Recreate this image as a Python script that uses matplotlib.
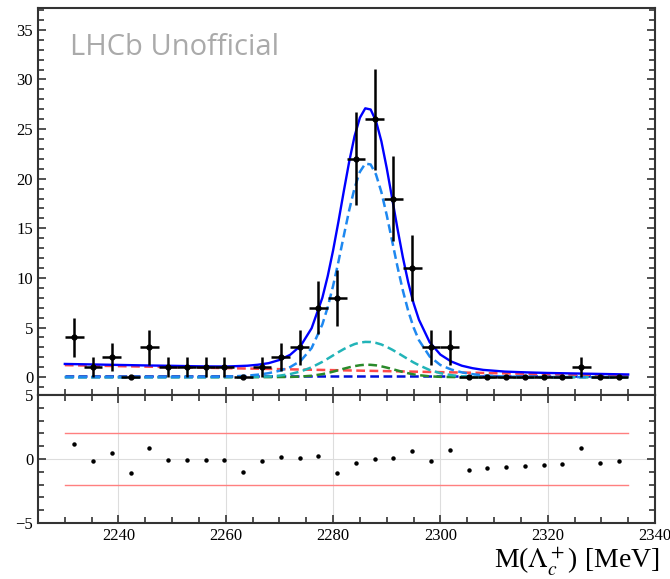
import matplotlib
matplotlib.use("Agg")
import matplotlib.pyplot as plt
import numpy as np
from matplotlib.ticker import MultipleLocator

plt.rcParams['font.family'] = ['Liberation Serif', 'DejaVu Serif']
plt.rcParams['mathtext.fontset'] = 'stix'

# binned data (bin width 3.5 MeV, 2230-2335)
bin_centers = [2231.75, 2235.25, 2238.75, 2242.25, 2245.75, 2249.25, 2252.75, 2256.25,
               2259.75, 2263.25, 2266.75, 2270.25, 2273.75, 2277.25, 2280.75, 2284.25,
               2287.75, 2291.25, 2294.75, 2298.25, 2301.75, 2305.25, 2308.75, 2312.25,
               2315.75, 2319.25, 2322.75, 2326.25, 2329.75, 2333.25]
counts = [4, 1, 2, 0, 3, 1, 1, 1, 1, 0, 1, 2, 3, 7, 8, 22, 26, 18, 11, 3, 3,
          0, 0, 0, 0, 0, 0, 1, 0, 0]
pulls = [1.17, -0.18, 0.44, -1.09, 0.88, -0.10, -0.10, -0.05, -0.05, -1.04,
         -0.18, 0.18, 0.05, 0.26, -1.12, -0.29, -0.03, 0.10, 0.65, -0.18,
         0.70, -0.88, -0.73, -0.62, -0.54, -0.49, -0.41, 0.83, -0.29, -0.18]
bin_half = 1.75

# fit components
mass = [2230, 2235, 2240, 2245, 2250, 2255, 2260, 2264, 2266, 2268, 2270, 2272,
        2274, 2276, 2278, 2279, 2280, 2281, 2282, 2283, 2284, 2285, 2286, 2287,
        2288, 2289, 2290, 2291, 2292, 2293, 2294, 2295, 2296, 2298, 2300, 2302,
        2304, 2306, 2308, 2312, 2316, 2320, 2325, 2330, 2335]
total = [1.33, 1.28, 1.23, 1.18, 1.14, 1.09, 1.07, 1.15, 1.25, 1.41, 1.73, 2.25,
         3.19, 4.93, 8.00, 10.18, 12.77, 15.68, 18.75, 21.71, 24.28, 26.15, 27.09, 26.97,
         25.81, 23.77, 21.06, 18.04, 14.97, 12.09, 9.56, 7.45, 5.79, 3.52, 2.27, 1.58,
         1.15, 0.90, 0.73, 0.56, 0.48, 0.42, 0.37, 0.32, 0.27]
signal = [0, 0, 0, 0, 0.01, 0.01, 0.04, 0.15, 0.25, 0.40, 0.64, 1.01,
          1.66, 2.93, 5.31, 7.06, 9.20, 11.64, 14.26, 16.82, 19.05, 20.69, 21.52, 21.43,
          20.42, 18.65, 16.32, 13.73, 11.13, 8.74, 6.68, 5.01, 3.72, 2.08, 1.22, 0.77,
          0.48, 0.30, 0.18, 0.06, 0.02, 0, 0, 0, 0]
wide_peak = [0, 0, 0, 0, 0, 0, 0, 0.01, 0.03, 0.06, 0.15, 0.31,
             0.58, 0.99, 1.54, 1.86, 2.19, 2.52, 2.83, 3.10, 3.33, 3.48, 3.55, 3.54,
             3.45, 3.29, 3.05, 2.77, 2.46, 2.13, 1.80, 1.48, 1.20, 0.72, 0.40, 0.20,
             0.09, 0.04, 0.01, 0, 0, 0, 0, 0, 0]
small_peak = [0, 0, 0, 0, 0, 0, 0, 0, 0, 0, 0.01, 0.02,
              0.06, 0.14, 0.30, 0.42, 0.55, 0.70, 0.85, 0.99, 1.11, 1.20, 1.25, 1.24,
              1.19, 1.09, 0.96, 0.82, 0.67, 0.52, 0.39, 0.28, 0.20, 0.08, 0.03, 0.01,
              0, 0, 0, 0, 0, 0, 0, 0, 0]
comb_x = [2230, 2335]
comb_y = [1.21, 0.15]
flat_x = [2230, 2335]
flat_y = [0.12, 0.12]

fig = plt.figure(figsize=(6.7, 5.79), dpi=100)
ax = fig.add_axes([38 / 670, 1 - 395 / 579, 617 / 670, 387 / 579])
axr = fig.add_axes([38 / 670, 1 - 523 / 579, 617 / 670, 128 / 579])

lw = 1.8
ax.plot(flat_x, flat_y, '--', color='#0010d8', lw=lw, dashes=(3.5, 1.8))
ax.plot(comb_x, comb_y, '--', color='#ff4a4a', lw=lw, dashes=(3.5, 1.8))
ax.plot(mass, small_peak, '--', color='#2a8a2a', lw=lw, dashes=(3.5, 1.8))
ax.plot(mass, wide_peak, '--', color='#22b4b8', lw=lw, dashes=(3.5, 1.8))
ax.plot(mass, signal, '--', color='#1e88f0', lw=lw, dashes=(3.5, 1.8))
ax.plot(mass, total, '-', color='#0000ff', lw=1.7)

yerr = np.sqrt(counts)
ax.errorbar(bin_centers, counts, xerr=bin_half, yerr=yerr, fmt='o', color='black',
            markersize=3.5, elinewidth=1.8, capsize=0, zorder=5)

ax.set_xlim(2225, 2340)
ax.set_ylim(-1.8, 37.2)
ax.yaxis.set_major_locator(MultipleLocator(5))
ax.yaxis.set_minor_locator(MultipleLocator(1))
ax.xaxis.set_major_locator(MultipleLocator(20))
ax.xaxis.set_minor_locator(MultipleLocator(5))
ax.tick_params(which='both', direction='in', left=True, right=True, top=False,
               bottom=True, labelbottom=False, labelsize=12, width=1.2, color='#333333')
ax.tick_params(which='major', length=6)
ax.tick_params(which='minor', length=4)

ax.text(0.052, 0.879, 'LHCb Unofficial', transform=ax.transAxes, fontsize=21,
        color='#aaaaaa', family='Open Sans', va='baseline')

# residuals
axr.grid(True, color='#dddddd', lw=0.8)
axr.plot([2230, 2335], [2, 2], color='#ff7f7f', lw=1)
axr.plot([2230, 2335], [-2, -2], color='#ff7f7f', lw=1)
axr.plot(bin_centers, pulls, 'o', color='black', markersize=2.2)
axr.set_xlim(2225, 2340)
axr.set_ylim(-5, 5)
axr.set_yticks([-5, 0, 5])
axr.yaxis.set_minor_locator(MultipleLocator(1))
axr.xaxis.set_major_locator(MultipleLocator(20))
axr.xaxis.set_minor_locator(MultipleLocator(5))
axr.tick_params(which='both', direction='in', left=True, right=True, top=True,
                bottom=True, labelsize=12, width=1.2, color='#333333')
axr.tick_params(which='major', length=6)
axr.tick_params(which='minor', length=4)

for a in (ax, axr):
    for s in a.spines.values():
        s.set_linewidth(1.5)
        s.set_color('#333333')

fig.text(660 / 670, 1 - 569 / 579, r'M($\Lambda_c^+$) [MeV]', fontsize=20,
         ha='right', va='baseline')

fig.savefig('out.png', dpi=100)
